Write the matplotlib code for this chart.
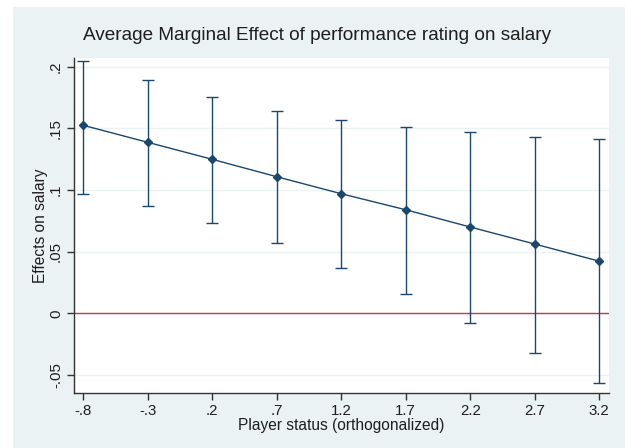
import matplotlib
matplotlib.use("Agg")
import matplotlib.pyplot as plt
from matplotlib.patches import Rectangle

# marginal effects
status = [-0.8, -0.3, 0.2, 0.7, 1.2, 1.7, 2.2, 2.7, 3.2]
effect = [0.1525, 0.1387, 0.1249, 0.1108, 0.0970, 0.0840, 0.0700, 0.0562, 0.0423]
ci_low = [0.0968, 0.0873, 0.0732, 0.0568, 0.0370, 0.0154, -0.0075, -0.0323, -0.0568]
ci_high = [0.2049, 0.1892, 0.1754, 0.1643, 0.1565, 0.1513, 0.1470, 0.1432, 0.1416]

xticks = [-0.8, -0.3, 0.2, 0.7, 1.2, 1.7, 2.2, 2.7, 3.2]
xlabels = ["-.8", "-.3", ".2", ".7", "1.2", "1.7", "2.2", "2.7", "3.2"]
yticks = [-0.05, 0, 0.05, 0.1, 0.15, 0.2]
ylabels = ["-.05", "0", ".05", ".1", ".15", ".2"]

navy = "#1a476f"
bg = "#eaf2f3"
plt.rcParams["font.family"] = ["Liberation Sans", "DejaVu Sans"]

fig = plt.figure(figsize=(6.25, 4.48), dpi=100)
fig.patch.set_facecolor("white")
fig.patches.append(Rectangle((13 / 625, 0), 1, 1 - 7 / 448, transform=fig.transFigure,
                             facecolor=bg, edgecolor="none", zorder=-10))

ax = fig.add_axes([74 / 625, 1 - 393 / 448, (609 - 74) / 625, (393 - 58) / 448])
ax.set_facecolor("white")

for y in yticks:
    ax.axhline(y, color=bg, lw=1.0, zorder=0)
ax.axhline(0, color="#c8384e", lw=1.0, zorder=1)

yerr = [[e - lo for e, lo in zip(effect, ci_low)], [hi - e for e, hi in zip(effect, ci_high)]]
ax.errorbar(status, effect, yerr=yerr, fmt="none", ecolor=navy, elinewidth=1.0,
            capsize=4, capthick=1.0, zorder=2)
ax.plot(status, effect, color=navy, lw=1.0, marker="D", markersize=4, zorder=3)

ax.set_xlim(-0.872, 3.275)
ax.set_ylim(-0.0646, 0.2071)
ax.set_xticks(xticks)
ax.set_xticklabels(xlabels)
ax.set_yticks(yticks)
ax.set_yticklabels(ylabels, rotation=90, va="center")

for s in ["top", "right"]:
    ax.spines[s].set_visible(False)
for s in ["left", "bottom"]:
    ax.spines[s].set_color("#333333")
    ax.spines[s].set_linewidth(1.0)
ax.tick_params(direction="out", length=5, width=1.0, color="#333333",
               labelsize=10.8, labelcolor="#1e1e1e", pad=3)

ax.set_xlabel("Player status (orthogonalized)", fontsize=11.2, color="#1e1e1e", labelpad=0)
ax.set_ylabel("Effects on salary", fontsize=11.2, color="#1e1e1e", labelpad=1)
fig.text(317 / 625, 1 - 35 / 448, "Average Marginal Effect of performance rating on salary",
         ha="center", va="center", fontsize=13.7, color="#1e1e1e")

fig.savefig("out.png", dpi=100, facecolor=fig.get_facecolor())
